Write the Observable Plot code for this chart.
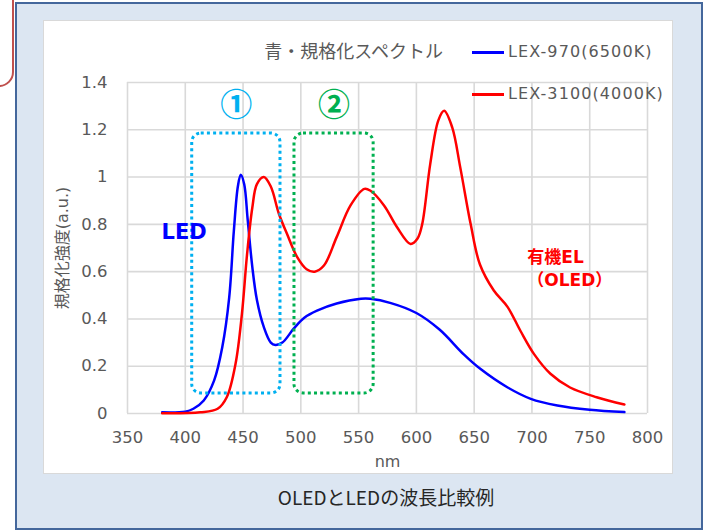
<!DOCTYPE html>
<html><head><meta charset="utf-8">
<script src="https://cdn.jsdelivr.net/npm/d3@7"></script>
<script src="https://cdn.jsdelivr.net/npm/@observablehq/plot@0.6"></script>
<style>
body{margin:0;background:#fff;width:704px;height:531px;position:relative;overflow:hidden;font-family:"DejaVu Sans","Noto Sans CJK JP",sans-serif;}
#tab{position:absolute;left:-30px;top:-30px;width:40px;height:113px;border:2.5px solid #c0504d;border-radius:15px;}
#panel{position:absolute;left:15px;top:2px;width:684px;height:524px;background:#dce6f2;border:2px solid #44679c;}
#chartbg{position:absolute;left:43px;top:20px;width:628px;height:452px;background:#fff;border:1px solid #d9d9d9;}
#chart{position:absolute;left:0;top:0;}
#title{position:absolute;right:261px;top:38px;font-size:18px;color:#595959;font-family:"Noto Sans CJK JP",sans-serif;white-space:nowrap;line-height:24px;}
.lg{position:absolute;left:472px;width:32px;height:2.5px;}
.lgt{position:absolute;left:508px;font-size:16px;color:#595959;letter-spacing:1.1px;white-space:nowrap;line-height:20px;}
#caption{position:absolute;left:386px;top:484px;transform:translateX(-50%);font-size:19px;color:#262626;font-family:"Noto Sans CJK JP",sans-serif;white-space:nowrap;line-height:26px;}
</style></head>
<body>
<div id="panel"></div>
<div id="tab"></div>
<div id="chartbg"></div>
<div id="chart"></div>
<div id="title"></div>
<div class="lg" id="lg1" style="top:51px;"></div>
<div class="lgt" id="lgt1" style="top:42px;"></div>
<div class="lg" id="lg2" style="top:93px;"></div>
<div class="lgt" id="lgt2" style="top:84px;"></div>
<div id="caption"></div>
<script>
// ---- data ----
const chartTitle = "青・規格化スペクトル";
const captionText = "OLEDとLEDの波長比較例";
const seriesNames = ["LEX-970(6500K)", "LEX-3100(4000K)"];
const seriesColors = ["#0000ff", "#ff0000"];
const xLabel = "nm";
const yLabel = "規格化強度(a.u.)";
const xTicks = [350, 400, 450, 500, 550, 600, 650, 700, 750, 800];
const yTicks = [0, 0.2, 0.4, 0.6, 0.8, 1, 1.2, 1.4];

// LEX-970 (LED) spectrum
const blueNm  = [380, 400, 407, 416, 425, 432, 438, 442, 445.5, 448, 451, 454, 458, 462, 468, 474, 478, 484, 494, 503, 514, 531, 552, 560, 578, 600, 620, 641, 655, 679, 699, 722, 750, 780];
const blueVal = [0.005, 0.008, 0.02, 0.055, 0.14, 0.28, 0.49, 0.77, 0.96, 1.01, 0.97, 0.82, 0.62, 0.48, 0.365, 0.30, 0.29, 0.30, 0.36, 0.405, 0.435, 0.465, 0.485, 0.485, 0.467, 0.425, 0.355, 0.25, 0.19, 0.11, 0.062, 0.034, 0.016, 0.006];

// LEX-3100 (OLED) spectrum
const redNm  = [380, 413, 428, 436, 443.5, 449, 453.5, 458, 462, 468, 474, 481, 488, 497, 505, 512, 520, 531, 543, 555, 560, 572, 583, 595, 601, 605, 612, 619, 624, 631, 638, 647, 655, 667, 679, 690, 702, 716, 733, 756, 780];
const redVal = [0.001, 0.005, 0.02, 0.07, 0.21, 0.42, 0.675, 0.87, 0.97, 1.0, 0.96, 0.845, 0.76, 0.66, 0.61, 0.60, 0.626, 0.746, 0.88, 0.95, 0.943, 0.88, 0.79, 0.717, 0.74, 0.80, 1.056, 1.24, 1.28, 1.21, 1.04, 0.80, 0.63, 0.52, 0.45, 0.35, 0.25, 0.168, 0.11, 0.069, 0.038];

// annotations (data units)
const regionLabels = ["①", "②"];
const regionColors = ["#00b0f0", "#00b050"];
const regionX1 = [406, 494.5];
const regionX2 = [482.4, 563];
const regionY1 = [0.085, 0.085];
const regionY2 = [1.184, 1.184];
const regionLabelY = [1.30, 1.30];
const ledLabel = "LED";
const ledLabelPos = [399, 0.766];
const oledLabel = "有機EL\n（OLED）";
const oledLabelPos = [696, 0.62];

// ---- build ----
const blue = blueNm.map((x, i) => ({nm: x, v: blueVal[i]}));
const red = redNm.map((x, i) => ({nm: x, v: redVal[i]}));
const regions = regionLabels.map((t, i) => ({t, c: regionColors[i], x1: regionX1[i], x2: regionX2[i], y1: regionY1[i], y2: regionY2[i], ly: regionLabelY[i], lx: (regionX1[i] + regionX2[i]) / 2}));

const font = '"DejaVu Sans","Noto Sans CJK JP",sans-serif';
const grid = {stroke: "#d9d9d9", strokeOpacity: 1, strokeWidth: 1.6};

const marks = [
  Plot.gridX(xTicks, grid),
  Plot.gridY(yTicks, grid),
  Plot.axisX(xTicks, {tickSize: 0, tickPadding: 18, label: null, tickFormat: d => String(d), fill: "#595959", fontSize: 16.5}),
  Plot.axisY(yTicks, {tickSize: 0, tickPadding: 20, label: null, tickFormat: d => String(d), fill: "#595959", fontSize: 16.5}),
  Plot.text([xLabel], {frameAnchor: "bottom", dy: 48, lineAnchor: "middle", text: d => d, fill: "#595959", fontSize: 16}),
  Plot.text([yLabel], {frameAnchor: "left", dx: -65, rotate: -90, textAnchor: "middle", lineAnchor: "middle", text: d => d, fill: "#595959", fontSize: 16}),
  Plot.line(blue, {x: "nm", y: "v", stroke: seriesColors[0], strokeWidth: 2.5, curve: "catmull-rom"}),
  Plot.line(red, {x: "nm", y: "v", stroke: seriesColors[1], strokeWidth: 2.5, curve: "catmull-rom"})
];
regions.forEach(r => {
  marks.push(Plot.rect([r], {x1: "x1", x2: "x2", y1: "y1", y2: "y2", stroke: r.c, fill: "none", strokeWidth: 3, strokeDasharray: "3,3.2"}));
  marks.push(Plot.text([r], {x: "lx", y: "ly", text: "t", fill: r.c, fontSize: 32, fontWeight: "bold", fontFamily: '"Noto Sans CJK JP",sans-serif'}));
});
marks.push(Plot.text([ledLabel], {x: () => ledLabelPos[0], y: () => ledLabelPos[1], text: d => d, fill: "#0000ff", fontSize: 21, fontWeight: "bold"}));
marks.push(Plot.text([oledLabel], {x: () => oledLabelPos[0], y: () => oledLabelPos[1], text: d => d, fill: "#ff0000", fontSize: 17, fontWeight: "bold", textAnchor: "start", lineHeight: 1.35}));

const chart = Plot.plot({
  width: 704, height: 531,
  marginLeft: 127, marginRight: 57, marginTop: 82, marginBottom: 118,
  style: {background: "transparent", fontFamily: font, fontSize: "16px", color: "#595959", overflow: "visible"},
  x: {domain: [350, 800]},
  y: {domain: [0, 1.4]},
  marks
});
// rounded corners for the dotted region boxes
d3.select(chart).selectAll('g[aria-label="rect"] rect').attr("rx", 9).attr("ry", 9);
document.getElementById("chart").appendChild(chart);

document.getElementById("title").textContent = chartTitle;
document.getElementById("caption").textContent = captionText;
document.getElementById("lg1").style.background = seriesColors[0];
document.getElementById("lg2").style.background = seriesColors[1];
document.getElementById("lgt1").textContent = seriesNames[0];
document.getElementById("lgt2").textContent = seriesNames[1];
</script>
</body></html>
